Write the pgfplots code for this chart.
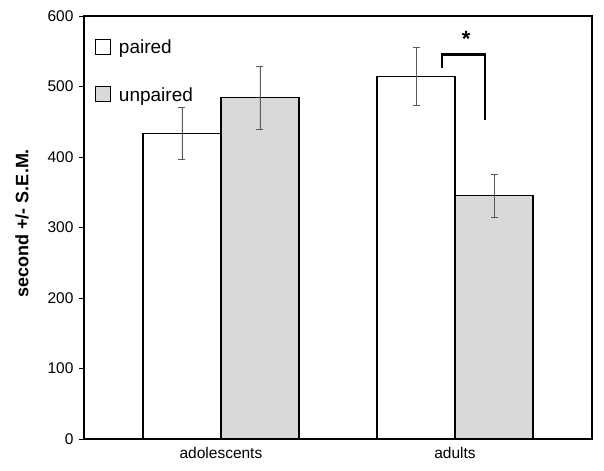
\documentclass[border=0pt]{standalone}
\usepackage{fontspec}
\setmainfont{Liberation Sans}
\usepackage{pgfplots}
\pgfplotsset{compat=1.18}

\definecolor{unpairedgray}{RGB}{217,217,217}
\definecolor{errgray}{RGB}{90,90,90}

\begin{document}
\begin{tikzpicture}
\begin{axis}[
scale only axis,
width=508pt,height=423pt,
ybar=0pt,bar width=0.333,
xmin=-0.585,xmax=1.585,
ymin=0,ymax=600,
ytick={0,100,...,600},
xtick={0,1},xticklabels={adolescents,adults},
xtick style={draw=none},
ytick pos=left,
tick align=outside,
major tick length=5pt,
ytick style={line width=0.8pt,black},
axis line style={line width=1.3pt},
tick label style={font=\fontsize{15.5}{18}\selectfont},
yticklabel style={xshift=-2pt},
/pgf/number format/assume math mode=true,
ylabel={\bfseries second +/- S.E.M.},
ylabel style={font=\fontsize{18}{20}\selectfont,at={(axis description cs:-0.122,0.51)},anchor=center},
legend style={draw=none,fill=none,at={(0.015,0.953)},anchor=north west,
  font=\fontsize{19}{22}\selectfont,row sep=28pt,
  legend cell align=left},
legend image code/.code={\draw[#1,line width=1pt] (0pt,-7pt) rectangle (15pt,8pt);\path (21pt,0pt);},
error bars/y dir=both,error bars/y explicit,
error bars/error bar style={errgray,line width=0.7pt},
error bars/error mark options={rotate=90,mark size=3.5pt,errgray,line width=0.7pt},
clip=false,
]
\addplot[draw=black,line width=1.3pt,fill=white] coordinates {
(0,433) +- (0,37)
(1,514) +- (0,41)
};
\addplot[draw=black,line width=1.3pt,fill=unpairedgray] coordinates {
(0,484) +- (0,45)
(1,345) +- (0,31)
};
\legend{paired,unpaired}
\draw[line width=2.6pt] (axis cs:0.944,526) -- (axis cs:0.944,545) -- (axis cs:1.128,545) -- (axis cs:1.128,452);
\node[font=\fontsize{22}{22}\selectfont\bfseries] at (axis cs:1.047,568) {*};
\end{axis}
\path ([xshift=-84pt,yshift=-32pt]current axis.south west) rectangle ([xshift=12pt,yshift=16pt]current axis.north east);
\end{tikzpicture}
\end{document}
